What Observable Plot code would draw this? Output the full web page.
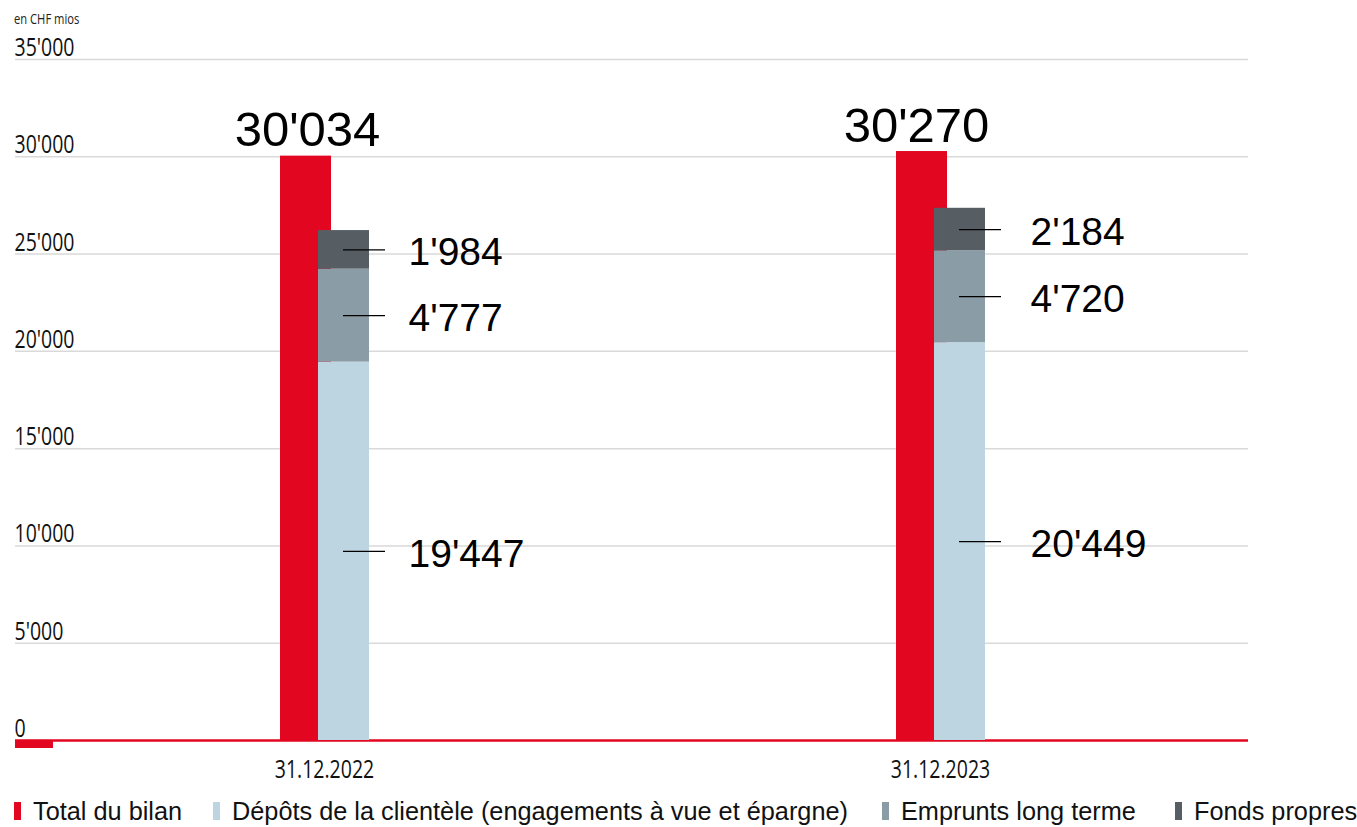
<!DOCTYPE html>
<html>
<head>
<meta charset="utf-8">
<script src="https://cdn.jsdelivr.net/npm/d3@7"></script>
<script src="https://cdn.jsdelivr.net/npm/@observablehq/plot@0.6"></script>
<style>
  html, body { margin: 0; padding: 0; background: #fff; }
  #wrap { position: relative; width: 1357px; height: 827px; }
  #unit { position: absolute; left: 14px; top: 9px; font-family: "Open Sans", sans-serif; font-size: 14px; color: #222; transform: scaleX(0.8); transform-origin: left center; white-space: nowrap; }
  #chart { position: absolute; left: 0; top: 0; }
  #legend { position: absolute; left: 0; top: 796px; width: 1357px; height: 30px; font-family: "Liberation Sans", Arial, sans-serif; font-size: 25.3px; color: #111; }
  .item { position: absolute; top: 0; display: flex; align-items: center; height: 30px; white-space: nowrap; }
  .sw { display: inline-block; width: 7px; height: 18px; margin-right: 12px; }
</style>
</head>
<body>
<div id="wrap">
  <div id="chart"></div>
  <div id="unit">en CHF mios</div>
  <div id="legend"></div>
</div>
<script>
// ---- data ----
const years = ["31.12.2022", "31.12.2023"];
const totalBilan = [30034, 30270];
const depots = [19447, 20449];
const emprunts = [4777, 4720];
const fondsPropres = [1984, 2184];
const seriesNames = ["Total du bilan", "Dépôts de la clientèle (engagements à vue et épargne)", "Emprunts long terme", "Fonds propres"];
const seriesColors = ["#e30620", "#bdd5e1", "#8a9ca5", "#565e64"];
const yTicks = [0, 5000, 10000, 15000, 20000, 25000, 30000, 35000];

// ---- derived tables ----
const fmt = d3.formatLocale({decimal: ".", thousands: "'", grouping: [3], currency: ["", ""]}).format(",");
const totalRows = years.map((y, i) => ({year: y, value: totalBilan[i]}));
const stackRows = [];
years.forEach((y, i) => {
  const vals = [depots[i], emprunts[i], fondsPropres[i]];
  let base = 0;
  vals.forEach((v, k) => {
    stackRows.push({year: y, series: seriesNames[k + 1], value: v, mid: base + v / 2});
    base += v;
  });
});

const red = seriesColors[0];
const narrow = "Open Sans, sans-serif";
const arial = "'Liberation Sans', Arial, sans-serif";

const chart = Plot.plot({
  width: 1357,
  height: 790,
  marginLeft: 15,
  marginRight: 109,
  marginTop: 59,
  marginBottom: 50,
  x: {type: "band", domain: years, padding: 0, axis: null},
  y: {domain: [0, 35000], axis: null},
  color: {domain: seriesNames, range: seriesColors},
  style: {fontFamily: arial, background: "white"},
  marks: [
    Plot.ruleY(yTicks.filter(d => d > 0), {stroke: "#d9d9d9", strokeWidth: 1.5}),
    Plot.text(yTicks, {y: d => d, text: d => fmt(d), frameAnchor: "left", textAnchor: "start", lineAnchor: "bottom", dx: -1, dy: -3.5, fontSize: 25, fontFamily: narrow, fill: "#111"}),
    Plot.ruleY([0], {stroke: red, strokeWidth: 2.5}),
    Plot.ruleY([0], {stroke: red, strokeWidth: 7, dy: 4, insetRight: 1195}),
    Plot.barY(totalRows, {x: "year", y: "value", fill: red, insetLeft: 264, insetRight: 301}),
    Plot.barY(stackRows, {x: "year", y: "value", fill: "series", insetLeft: 302, insetRight: 263}),
    Plot.tickY(stackRows, {x: "year", y: "mid", stroke: "#000", strokeWidth: 1.3, insetLeft: 327, insetRight: 247}),
    Plot.text(stackRows.filter(d => d.year === years[0]), {x: "year", y: "mid", text: d => fmt(d.value), textAnchor: "start", dx: 84, dy: 3, fontSize: 39, fill: "#000"}),
    Plot.text(stackRows.filter(d => d.year === years[1]), {x: "year", y: "mid", text: d => fmt(d.value), textAnchor: "start", dx: 90, dy: 3, fontSize: 39, fill: "#000"}),
    Plot.text(totalRows.filter(d => d.year === years[0]), {x: "year", y: "value", text: d => fmt(d.value), dx: -17, dy: -10, lineAnchor: "bottom", fontSize: 49, fill: "#000"}),
    Plot.text(totalRows.filter(d => d.year === years[1]), {x: "year", y: "value", text: d => fmt(d.value), dx: -24, dy: -10, lineAnchor: "bottom", fontSize: 49, fill: "#000"}),
    Plot.text(years, {x: d => d, text: d => d, frameAnchor: "bottom", lineAnchor: "top", dy: 20, fontSize: 25, fontFamily: narrow, fill: "#111"})
  ]
});
document.getElementById("chart").appendChild(chart);

// condensed look for the axis labels (Open Sans texts)
chart.querySelectorAll("text").forEach(t => {
  const ff = (t.getAttribute("font-family") || (t.parentNode.getAttribute && t.parentNode.getAttribute("font-family")) || "");
  if (ff.indexOf("Open Sans") >= 0) {
    const w = t.getComputedTextLength();
    if (w > 0) {
      t.setAttribute("textLength", (w * 0.78).toFixed(1));
      t.setAttribute("lengthAdjust", "spacingAndGlyphs");
    }
  }
});

// ---- legend ----
const legendLeft = [14, 213, 882, 1175];
const legend = document.getElementById("legend");
seriesNames.forEach((name, i) => {
  const it = document.createElement("div");
  it.className = "item";
  it.style.left = legendLeft[i] + "px";
  const sw = document.createElement("span");
  sw.className = "sw";
  sw.style.background = seriesColors[i];
  it.appendChild(sw);
  it.appendChild(document.createTextNode(name));
  legend.appendChild(it);
});
</script>
</body>
</html>
